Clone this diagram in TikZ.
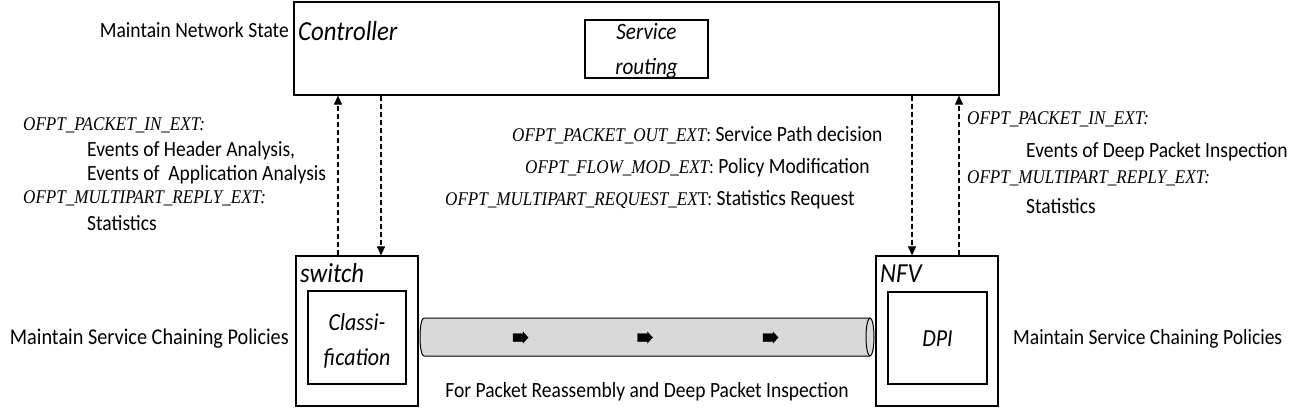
\documentclass[tikz,border=0pt]{standalone}
\usepackage{fontspec}
\setmainfont[FakeStretch=0.9]{Carlito}
\newfontfamily\tnr[FakeStretch=0.88]{Liberation Serif}
\usetikzlibrary{arrows.meta}
\definecolor{pipegray}{HTML}{D9D9D9}
\tikzset{
  box/.style={draw=black, line width=1.2pt, inner sep=0pt},
  lbl/.style={inner sep=0pt, font=\fontsize{21.7}{25}\selectfont},
  ofpt/.style={inner sep=0pt, font=\tnr\itshape\fontsize{19.4}{22}\selectfont},
  msg/.style={line width=1.1pt, dash pattern=on 5pt off 3pt, -{Triangle[length=9pt,width=8pt]}},
  pktarrow/.style={fill=black, draw=black, line width=0.4pt}
}
\begin{document}
\begin{tikzpicture}[x=1pt, y=-1pt]
\useasboundingbox (0,0) rectangle (1302,409);
% boxes
\node[box, minimum width=705pt, minimum height=93pt] (ctrl) at (646.5,48.5) {};
\node[box, minimum width=123pt, minimum height=58pt] (sr) at (646.5,49) {};
\node[box, minimum width=122pt, minimum height=150pt] (sw) at (357,331) {};
\node[box, minimum width=98pt, minimum height=93pt] (cls) at (357,337.5) {};
\node[box, minimum width=122pt, minimum height=150pt] (nfv) at (937,331) {};
\node[box, minimum width=99pt, minimum height=92pt] (dpi) at (937.5,338) {};
% box titles
\node[lbl, anchor=base west, font=\itshape\fontsize{27.5}{30}\selectfont] (ctrlt) at (298,41) {Controller};
\node[lbl, anchor=base, font=\itshape\fontsize{23.5}{34}\selectfont] (srt1) at (646.5,40) {Service};
\node[lbl, anchor=base, font=\itshape\fontsize{23.5}{34}\selectfont] (srt2) at (646.5,75) {routing};
\node[lbl, anchor=base west, font=\itshape\fontsize{27.5}{30}\selectfont] (swt) at (300,282) {switch};
\node[lbl, anchor=base west, font=\itshape\fontsize{27.5}{30}\selectfont] (nfvt) at (880,282) {NFV};
\node[lbl, anchor=base, font=\itshape\fontsize{24.4}{36}\selectfont] (clst1) at (357,330) {Classi-};
\node[lbl, anchor=base, font=\itshape\fontsize{24.4}{36}\selectfont] (clst2) at (357,365) {fication};
\node[lbl, anchor=base, font=\itshape\fontsize{24.4}{28}\selectfont] (dpit) at (937.5,346.5) {DPI};
% side labels
\node[lbl, anchor=base east] (mns) at (289,38) {Maintain Network State};
\node[lbl, anchor=base east, font=\fontsize{22.5}{25}\selectfont] (mscl) at (289,344) {Maintain Service Chaining Policies};
\node[lbl, anchor=base west] (mscr) at (1013,344) {Maintain Service Chaining Policies};
\node[lbl, anchor=base] (reasm) at (647,397) {For Packet Reassembly and Deep Packet Inspection};
% left message block
\node[ofpt, anchor=base west] (l1) at (23,131) {OFPT\_PACKET\_IN\_EXT:};
\node[lbl, anchor=base west] (l2) at (87,157) {Events of Header Analysis,};
\node[lbl, anchor=base west] (l3) at (87,181) {Events of \ Application Analysis};
\node[ofpt, anchor=base west] (l4) at (23,204) {OFPT\_MULTIPART\_REPLY\_EXT:};
\node[lbl, anchor=base west] (l5) at (87,230) {Statistics};
% middle message block
\node[anchor=base west, inner sep=0pt] (m1) at (512,142) {{\tnr\itshape\fontsize{19.4}{22}\selectfont OFPT\_PACKET\_OUT\_EXT}{\tnr\fontsize{19.4}{22}\selectfont :}{\fontsize{21.7}{25}\selectfont\ Service Path decision}};
\node[anchor=base west, inner sep=0pt] (m2) at (525,174) {{\tnr\itshape\fontsize{19.4}{22}\selectfont OFPT\_FLOW\_MOD\_EXT}{\tnr\fontsize{19.4}{22}\selectfont :}{\fontsize{21.7}{25}\selectfont\ Policy Modification}};
\node[anchor=base west, inner sep=0pt] (m3) at (445,205) {{\tnr\itshape\fontsize{19.4}{22}\selectfont OFPT\_MULTIPART\_REQUEST\_EX}{\tnr\fontsize{19.4}{22}\selectfont T:}{\fontsize{21.7}{25}\selectfont\ Statistics Request}};
% right message block
\node[ofpt, anchor=base west] (r1) at (967,125) {OFPT\_PACKET\_IN\_EXT:};
\node[lbl, anchor=base west] (r2) at (1026,158) {Events of Deep Packet Inspection};
\node[ofpt, anchor=base west] (r3) at (967,183) {OFPT\_MULTIPART\_REPLY\_EXT:};
\node[lbl, anchor=base west] (r4) at (1026,214) {Statistics};
% message arrows
\coordinate (xa) at (338,0);
\coordinate (xb) at (381,0);
\coordinate (xc) at (912,0);
\coordinate (xd) at (959,0);
\draw[msg] (sw.north -| xa) -- (ctrl.south -| xa);
\draw[msg] (ctrl.south -| xb) -- (sw.north -| xb);
\draw[msg] (ctrl.south -| xc) -- (nfv.north -| xc);
\draw[msg] (nfv.north -| xd) -- (ctrl.south -| xd);
% pipe
\fill[pipegray] (424,318) -- (870,318) -- (870,356) -- (424,356)
  .. controls (418.7,356) and (418.7,318) .. (424,318) -- cycle;
\draw[line width=1pt] (870,318) -- (424,318) .. controls (418.7,318) and (418.7,356) .. (424,356) -- (870,356);
\draw[line width=1pt, fill=pipegray] (870,337) ellipse [x radius=4pt, y radius=19pt];
% packet arrows inside pipe
\foreach \cx in {520.5,645,770.5}{
  \fill[pktarrow] (\cx-7.5,333.5) -- (\cx+2.5,333.5) -- (\cx+2.5,332) -- (\cx+7.5,337.5)
    -- (\cx+2.5,343) -- (\cx+2.5,341.5) -- (\cx-7.5,341.5) -- cycle;
}
\end{tikzpicture}
\end{document}
